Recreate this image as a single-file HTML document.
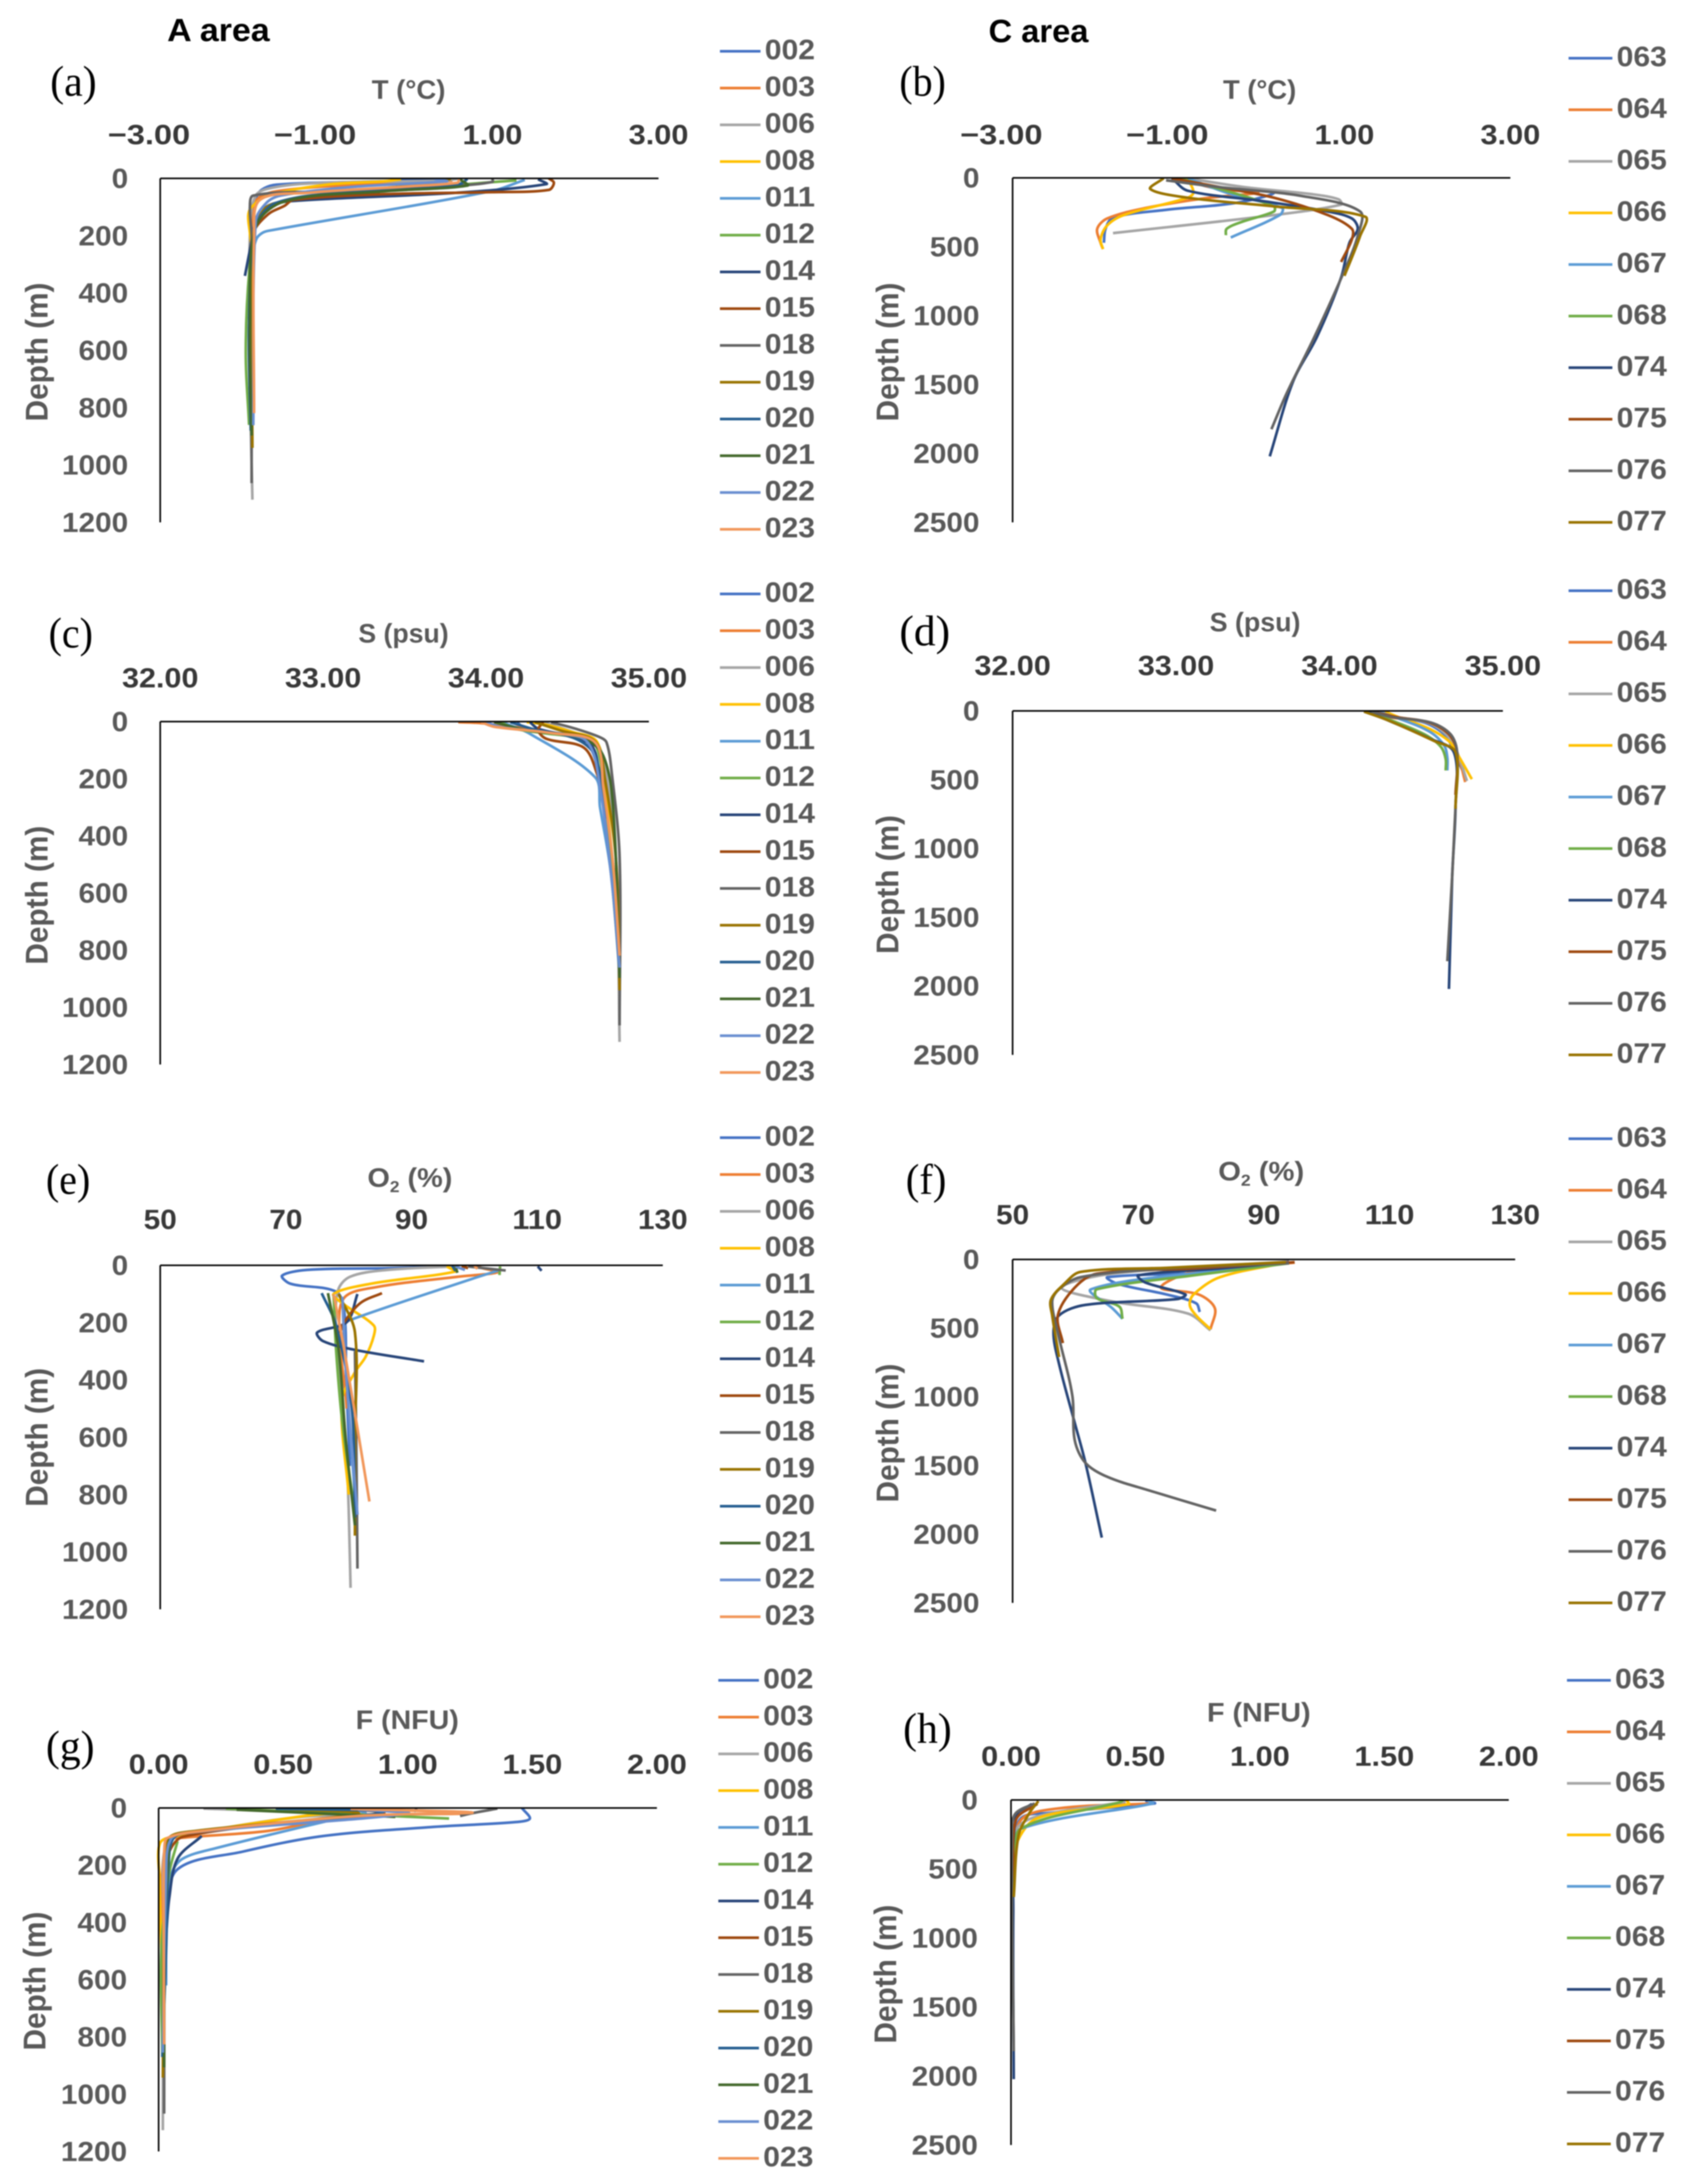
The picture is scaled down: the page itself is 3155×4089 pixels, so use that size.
<!DOCTYPE html>
<html lang="en">
<head>
<meta charset="utf-8">
<title>Depth profiles, A area and C area</title>
<style>
html,body{margin:0;padding:0;background:#fff;width:3155px;height:4089px;overflow:hidden}
svg{display:block;filter:blur(1.1px)}
text{font-family:"Liberation Sans",sans-serif}
.serif{font-family:"Liberation Serif",serif;fill:#000}
.head{font-weight:bold;fill:#000;font-size:60px}
.title{font-weight:bold;fill:#595959;font-size:50px}
</style>
</head>
<body>
<svg id="chart" xmlns="http://www.w3.org/2000/svg" width="3155" height="4089" viewBox="0 0 3155 4089">
<rect width="3155" height="4089" fill="#fff"/>
<text class="head" x="313" y="77" textLength="192" lengthAdjust="spacingAndGlyphs">A area</text>
<text class="head" x="1851" y="79" textLength="187" lengthAdjust="spacingAndGlyphs">C area</text>

<text class="serif" font-size="80" x="94" y="179" textLength="87" lengthAdjust="spacingAndGlyphs">(a)</text>
<text class="serif" font-size="80" x="1684" y="179" textLength="87" lengthAdjust="spacingAndGlyphs">(b)</text>
<text class="serif" font-size="80" x="91" y="1212" textLength="83" lengthAdjust="spacingAndGlyphs">(c)</text>
<text class="serif" font-size="80" x="1684" y="1208" textLength="95" lengthAdjust="spacingAndGlyphs">(d)</text>
<text class="serif" font-size="80" x="86" y="2235" textLength="83" lengthAdjust="spacingAndGlyphs">(e)</text>
<text class="serif" font-size="80" x="1696" y="2235" textLength="76" lengthAdjust="spacingAndGlyphs">(f)</text>
<text class="serif" font-size="80" x="86" y="3296" textLength="91" lengthAdjust="spacingAndGlyphs">(g)</text>
<text class="serif" font-size="80" x="1691" y="3263" textLength="91" lengthAdjust="spacingAndGlyphs">(h)</text>

<text class="title" x="696" y="185" textLength="138" lengthAdjust="spacingAndGlyphs">T (°C)</text>
<text class="title" x="2290" y="185" textLength="137" lengthAdjust="spacingAndGlyphs">T (°C)</text>
<text class="title" x="671" y="1203" textLength="169" lengthAdjust="spacingAndGlyphs">S (psu)</text>
<text class="title" x="2265" y="1182" textLength="170" lengthAdjust="spacingAndGlyphs">S (psu)</text>
<text class="title" x="688" y="2222" textLength="159" lengthAdjust="spacingAndGlyphs">O<tspan font-size="30" dy="10">2</tspan><tspan dy="-10"> (%)</tspan></text>
<text class="title" x="2281" y="2210" textLength="161" lengthAdjust="spacingAndGlyphs">O<tspan font-size="30" dy="10">2</tspan><tspan dy="-10"> (%)</tspan></text>
<text class="title" x="666" y="3237" textLength="193" lengthAdjust="spacingAndGlyphs">F (NFU)</text>
<text class="title" x="2260" y="3223" textLength="194" lengthAdjust="spacingAndGlyphs">F (NFU)</text>
</svg>
<script>
const stationsA = ['002','003','006','008','011','012','014','015','018','019','020','021','022','023'];
const stationsC = ['063','064','065','066','067','068','074','075','076','077'];
const coloursA = ['#4472C4','#ED7D31','#A5A5A5','#FFC000','#5B9BD5','#70AD47','#264478','#9E480E','#636363','#997300','#255E91','#43682B','#698ED0','#F1975A'];
const coloursC = ['#4472C4','#ED7D31','#A5A5A5','#FFC000','#5B9BD5','#70AD47','#264478','#9E480E','#636363','#997300'];

const depthTicksA = [0,200,400,600,800,1000,1200];
const depthTicksC = [0,500,1000,1500,2000,2500];
const tempTicks = [-3,-1,1,3];
const tempLabels = ['\u22123.00','\u22121.00','1.00','3.00'];
const salTicks = [32,33,34,35];
const salLabels = ['32.00','33.00','34.00','35.00'];
const oxyTicks = [50,70,90,110,130];
const oxyLabels = ['50','70','90','110','130'];
const fluoTicks = [0,0.5,1,1.5,2];
const fluoLabels = ['0.00','0.50','1.00','1.50','2.00'];

/* Each series: [depth (m), value] readings; null marks a gap in the profile */
const tempA = [
[[2,-0.1],[6,0.35],[12,-0.6],[22,-1.6],[40,-1.78],[70,-1.85],[100,-1.88],[240,-1.9]],
[[2,0.3],[8,0.5],[20,-0.5],[45,-1.6],[80,-1.85],[200,-1.9],[450,-1.9]],
[[2,0.58],[8,0.4],[15,-1.0],[30,-1.6],[60,-1.85],[200,-1.92],[700,-1.92],[1121,-1.89]],
[[3,-0.1],[10,-0.3],[22,-1.0],[60,-1.7],[100,-1.9],[130,-1.94],[190,-1.92],[260,-1.9],[420,-1.92]],
[[5,1.39],[45,0.98],[183,-1.7],[192,-1.78],[210,-1.84],[260,-1.88],[500,-1.92]],
[[7,1.29],[15,0.9],[50,-0.5],[85,-1.55],[140,-1.82],[300,-1.92],[600,-1.97],[860,-1.93]],
[[3,1.55],[20,1.65],[50,0.58],[77,-1.3],[94,-1.69],[152,-1.85],[250,-1.92],[340,-1.98]],
[[0,1.68],[15,1.74],[40,1.68],[48,1.0],[55,-0.3],[75,-1.4],[95,-1.5],[125,-1.7],[190,-1.88],[300,-1.9]],
[[0,1.0],[12,1.0],[25,0.6],[45,-1.0],[60,-1.88],[100,-1.92],[200,-1.9],[600,-1.9],[1063,-1.9]],
[[2,0.5],[20,0.2],[50,-0.9],[90,-1.65],[150,-1.85],[400,-1.9],[940,-1.89]],
[[2,0.7],[20,0.6],[45,-0.6],[85,-1.6],[170,-1.85],[500,-1.93],[880,-1.91]],
[[2,0.6],[25,0.7],[45,-0.3],[80,-1.5],[170,-1.85],[500,-1.92],[897,-1.9]],
[[2,0.3],[10,0.45],[30,-0.7],[60,-1.55],[85,-1.72],[150,-1.85],[861,-1.88]],
[[2,0.6],[15,0.58],[28,0.0],[50,-1.2],[75,-1.8],[200,-1.87],[819,-1.87]]
];
const tempC = [
[[3,-1.02],[81,-0.5],[106,0.15],[181,-0.3],[232,-1.15],[290,-1.79],[370,-1.88],[471,-1.9]],
[[3,-1.02],[81,-0.5],[106,-0.04],[149,-0.69],[219,-1.40],[295,-1.86],[370,-1.98],[471,-1.94],[517,-1.91]],
[[3,-0.89],[68,-0.2],[118,0.6],[156,0.93],[194,0.96],[270,0.15],[401,-1.79]],
[[3,-0.89],[106,-0.82],[144,-0.89],[270,-1.66],[345,-1.86],[446,-1.94],[517,-1.91]],
[[3,-0.89],[118,-0.37],[219,0.25],[270,0.22],[433,-0.37]],
[[3,-1.0],[81,-0.5],[207,0.15],[244,0.15],[320,-0.24],[370,-0.42],[416,-0.43]],
[[3,-1.08],[93,-0.89],[169,0.02],[244,0.8],[295,1.09],[370,1.16],[471,1.06],[723,0.96],[1152,0.67],[1479,0.38],[2021,0.10]],
[[3,-1.08],[68,-0.5],[144,0.15],[270,0.8],[370,1.09],[446,1.09],[610,0.96]],
[[18,-1.15],[68,-0.5],[131,0.48],[244,1.19],[421,1.16],[673,1.0],[1152,0.64],[1555,0.31],[1824,0.12]],
[[3,-1.18],[81,-1.34],[144,-0.89],[207,0.15],[282,1.25],[421,1.19],[711,1.0]]
];
const salA = [
[[2,34.19],[28,34.25],[45,34.5],[70,34.62],[200,34.7],[500,34.78],[800,34.81]],
[[2,33.83],[6,33.98],[28,34.3],[55,34.55],[80,34.65],[230,34.7],[500,34.78],[780,34.82]],
[[2,34.35],[15,34.42],[40,34.55],[70,34.68],[230,34.75],[500,34.8],[1121,34.82]],
[[2,34.25],[10,34.36],[35,34.52],[70,34.68],[230,34.73],[500,34.78],[600,34.8]],
[[2,34.1],[43,34.27],[195,34.67],[300,34.7],[500,34.76],[800,34.82]],
[[2,34.09],[25,34.18],[40,34.35],[60,34.6],[90,34.68],[230,34.72],[860,34.82]],
[[2,34.27],[25,34.32],[50,34.5],[85,34.65],[200,34.7],[340,34.74]],
[[2,34.35],[30,34.32],[60,34.37],[91,34.6],[180,34.68],[300,34.73]],
[[2,34.4],[25,34.55],[55,34.7],[73,34.74],[170,34.77],[474,34.82],[1063,34.82]],
[[2,34.3],[30,34.45],[70,34.67],[200,34.73],[500,34.8],[940,34.82]],
[[2,34.15],[28,34.3],[60,34.55],[120,34.67],[300,34.72],[600,34.78],[880,34.82]],
[[2,34.05],[30,34.25],[60,34.6],[120,34.72],[300,34.78],[897,34.82]],
[[2,34.0],[20,34.1],[40,34.4],[70,34.62],[230,34.7],[600,34.78],[861,34.82]],
[[2,33.97],[18,34.05],[40,34.4],[73,34.67],[230,34.72],[500,34.78],[819,34.82]]
];
const salC = [
[[5,34.2],[40,34.3],[85,34.52],[180,34.65],[300,34.7],[400,34.74],[480,34.77]],
[[5,34.2],[45,34.3],[85,34.55],[170,34.66],[300,34.72],[517,34.77]],
[[5,34.25],[45,34.35],[90,34.55],[180,34.66],[300,34.72],[509,34.78]],
[[5,34.28],[40,34.35],[130,34.55],[220,34.67],[310,34.72],[496,34.81]],
[[5,34.23],[50,34.35],[150,34.55],[250,34.64],[340,34.66],[433,34.66]],
[[5,34.18],[60,34.3],[170,34.52],[260,34.62],[350,34.65],[433,34.65]],
[[5,34.17],[60,34.28],[200,34.55],[300,34.7],[700,34.71],[1200,34.69],[2021,34.67]],
[[5,34.2],[45,34.35],[85,34.55],[170,34.67],[300,34.72],[610,34.71]],
[[5,34.2],[45,34.32],[85,34.56],[170,34.68],[300,34.72],[700,34.71],[1200,34.69],[1819,34.66]],
[[5,34.15],[70,34.3],[219,34.58],[300,34.71],[711,34.71]]
];
const oxyA = [
[[4,95.6],[10,86.1],[16,73.3],[36,69.4],[64,70.7],[92,78],[161,79.3],[400,79.6],[700,80.2]],
[[1,100.3],[8,101],[24,103.7],[40,97.3],[76,84.4],[113,79.3],[230,78.5],[450,79.5],[500,79.7]],
[[4,96.4],[16,86.1],[40,80.2],[88,78.3],[230,78],[600,79.5],[850,80],[1125,80.3]],
[[4,95.6],[22,96.9],[64,83.6],[100,77.6],[137,79.3],[210,84],[246,84],[319,82.7],[373,81],[476,78.9],[800,80]],
[[16,104.1],[46,99.8],[191,80.2],[210,79.3],[500,80],[800,81]],
[[4,104.1],[34,104],null,[100,77.6],[295,78],[550,79],[864,81]],
[[4,110.1],[19,110.7],null,[100,81.4],[198,79.7],[234,75],[264,75.9],[295,81],[335,92]],
[[2,98],[10,99],null,[97,85.3],[131,81.9],[198,79.3],[236,78.6]],
[[4,99],[18,105],null,[300,81],[600,81.2],[1058,81.4]],
[[100,78.4],[234,81],[600,81],[943,81]],
[[2,96.5],[20,97],null,[97,75.7],[210,78],[500,80.5],[880,81]],
[[3,97],[26,97.3],null,[97,76.7],[295,78.4],[600,79.5],[907,81]],
[[4,97],[16,98.5],null,[110,79],[350,79.5],[870,81.4]],
[[2,100],[12,100.5],null,[100,77.6],[295,79.3],[824,83.3]]
];
const oxyC = [
[[15,94],[90,83],[129,65.1],[179,66.8],[255,74.5],[319,79.2],[382,79.8]],
[[23,94.9],[90,78.8],[205,73.6],[255,79.6],[356,82.2],[508,81.5]],
[[15,94],[104,65.9],[205,57.8],[306,65.9],[394,77.9],[516,81.5]],
[[20,94],[129,83],[255,78.8],[331,78.2],[407,79.2],[508,81.5]],
[[20,94],[78,83],[217,62.5],[356,65.9],[432,67.5]],
[[28,94],[116,78.8],[217,63.4],[281,63.4],[344,67],[432,67.5]],
[[20,94],[66,83],[116,70],[167,71.1],[255,77.5],[288,76.2],[331,61.6],[407,57.4],[533,56.5],[761,57.4],[1191,59.9],[1481,61.6],[2025,64.2]],
[[20,94.9],[66,78.8],[104,63.4],[205,59.9],[407,57.2],[609,58]],
[[28,94],[66,74.5],[129,60.8],[217,57.4],[306,56.3],[533,57.2],[988,59.5],[1317,59.9],[1481,61.6],[1583,65.1],[1684,71.9],[1828,82.4]],
[[20,93.5],[61,74.5],[91,60.8],[179,58.2],[293,56.1],[407,56.3],[710,57.4]]
];
const fluoA = [
[[0,1.458],[37,1.49],[49,1.436],[67,1.09],[98,0.66],[153,0.335],[214,0.076],[373,0.032],[680,0.02]],
[[2,0.72],[18,1.26],[31,0.745],[80,0.44],[104,0.097],[116,0.032],[373,0.011],[600,0.02]],
[[2,0.18],[24,0.87],[31,0.57],[92,0.12],[116,0.032],[373,0.02],[1126,0.017]],
[[2,0.58],[12,0.76],[27,0.59],[98,0.076],[122,0.006],[251,0.004],[500,0.011]],
[[2,0.76],[18,0.83],[37,0.72],[141,0.227],[177,0.097],[226,0.054],[373,0.032],[620,0.03]],
[[2,0.27],[37,1.166],null,[116,0.076],[226,0.043],[496,0.011],[870,0.015]],
[[2,1.037],[12,1.025],null,[98,0.173],[177,0.076],[312,0.043],[450,0.03]],
[[2,0.72],[18,0.9],[100,0.1],[180,0.03],[300,0.02]],
[[2,1.36],[18,1.26],[28,1.21],null,[104,0.032],[400,0.024],[1068,0.022]],
[[3,0.5],[20,0.8],[80,0.15],[105,0.04],[200,0.025],[942,0.017]],
[[2,0.47],[15,0.9],[85,0.14],[105,0.06],[200,0.04],[500,0.03],[870,0.015]],
[[6,0.313],[31,0.95],null,[104,0.043],[400,0.025],[906,0.022]],
[[5,0.8],[20,1.0],[85,0.14],[108,0.05],[250,0.03],[855,0.017]],
[[3,0.77],[16,1.26],[28,0.8],[85,0.13],[105,0.035],[130,0.024],[300,0.02],[826,0.022]]
];
const fluoC = [
[[5,0.54],[25,0.577],[94,0.15],[132,0.04],[322,0.015],[576,0.011]],
[[25,0.57],[61,0.19],[145,0.04],[450,0.015]],
[[13,0.46],[119,0.106],[220,0.02],[576,0.011]],
[[1,0.463],[30,0.473],[132,0.106],[322,0.02],[520,0.011]],
[[5,0.55],[25,0.57],[208,0.04],[373,0.015],[576,0.011]],
[[1,0.45],[15,0.44],[208,0.04],[450,0.011]],
[[28,0.084],[119,0.02],[830,0.009],[2023,0.011]],
[[28,0.106],[145,0.02],[576,0.011]],
[[25,0.095],[94,0.02],[195,0.004],[1820,0.011]],
[[8,0.11],[94,0.074],[259,0.03],[703,0.011]]
];

const panels = [
 {id:'a',series:tempA,names:stationsA,colours:coloursA,xT:tempTicks,xL:tempLabels,yT:depthTicksA,xMin:-3,xMax:3,yMax:1200,l:300,r:1233,t:334,b:978,xBase:270,yRight:240,depX:89,depY:659,legX:1348,legW:76,legT:96,legB:991},
 {id:'b',series:tempC,names:stationsC,colours:coloursC,xT:tempTicks,xL:tempLabels,yT:depthTicksC,xMin:-3,xMax:3,yMax:2500,l:1896,r:2828,t:333,b:978,xBase:270,yRight:1834,depX:1682,depY:659,legX:2937,legW:82,legT:109,legB:978},
 {id:'c',series:salA,names:stationsA,colours:coloursA,xT:salTicks,xL:salLabels,yT:depthTicksA,xMin:32,xMax:35,yMax:1200,l:300,r:1215,t:1351,b:1993,xBase:1287,yRight:240,depX:89,depY:1676,legX:1348,legW:76,legT:1112,legB:2008},
 {id:'d',series:salC,names:stationsC,colours:coloursC,xT:salTicks,xL:salLabels,yT:depthTicksC,xMin:32,xMax:35,yMax:2500,l:1896,r:2814,t:1331,b:1975,xBase:1264,yRight:1834,depX:1682,depY:1656,legX:2937,legW:82,legT:1106,legB:1975},
 {id:'e',series:oxyA,names:stationsA,colours:coloursA,xT:oxyTicks,xL:oxyLabels,yT:depthTicksA,xMin:50,xMax:130,yMax:1200,l:300,r:1241,t:2369,b:3013,xBase:2301,yRight:240,depX:89,depY:2691,legX:1348,legW:76,legT:2130,legB:3027},
 {id:'f',series:oxyC,names:stationsC,colours:coloursC,xT:oxyTicks,xL:oxyLabels,yT:depthTicksC,xMin:50,xMax:130,yMax:2500,l:1896,r:2837,t:2358,b:3001,xBase:2292,yRight:1834,depX:1682,depY:2683,legX:2937,legW:82,legT:2132,legB:3001},
 {id:'g',series:fluoA,names:stationsA,colours:coloursA,xT:fluoTicks,xL:fluoLabels,yT:depthTicksA,xMin:0,xMax:2,yMax:1200,l:297,r:1230,t:3385,b:4028,xBase:3321,yRight:238,depX:85,depY:3709,legX:1345,legW:76,legT:3146,legB:4041},
 {id:'h',series:fluoC,names:stationsC,colours:coloursC,xT:fluoTicks,xL:fluoLabels,yT:depthTicksC,xMin:0,xMax:2,yMax:2500,l:1893,r:2825,t:3370,b:4016,xBase:3306,yRight:1831,depX:1678,depY:3696,legX:2934,legW:82,legT:3146,legB:4014}
];

const SVGNS = 'http://www.w3.org/2000/svg';
const root = document.getElementById('chart');

function mk(tag, parent) {
  const n = document.createElementNS(SVGNS, tag);
  parent.appendChild(n);
  return n;
}
function labelWidth(s) {
  let w = 0;
  for (const c of s) {
    w += c === '.' ? 19 : c === '\u2212' ? 42 : 31;
  }
  return w;
}
function dist(a, b) {
  return Math.hypot(a[0] - b[0], a[1] - b[1]) || 1;
}
function smoothPath(pts) {
  let d = 'M' + pts[0][0].toFixed(1) + ' ' + pts[0][1].toFixed(1);
  for (let i = 0; i < pts.length - 1; i++) {
    const p0 = pts[Math.max(i - 1, 0)], p1 = pts[i], p2 = pts[i + 1], p3 = pts[Math.min(i + 2, pts.length - 1)];
    const seg = dist(p1, p2);
    const k1 = seg / 3 / (i === 0 ? seg : dist(p0, p1) + seg);
    const k2 = seg / 3 / (i + 2 > pts.length - 1 ? seg : seg + dist(p2, p3));
    const c1x = p1[0] + (p2[0] - p0[0]) * k1, c1y = p1[1] + (p2[1] - p0[1]) * k1;
    const c2x = p2[0] - (p3[0] - p1[0]) * k2, c2y = p2[1] - (p3[1] - p1[1]) * k2;
    d += 'C' + c1x.toFixed(1) + ' ' + c1y.toFixed(1) + ' ' + c2x.toFixed(1) + ' ' + c2y.toFixed(1) + ' ' + p2[0].toFixed(1) + ' ' + p2[1].toFixed(1);
  }
  return d;
}

panels.forEach(function (p) {
  const xScale = function (v) { return p.l + (v - p.xMin) / (p.xMax - p.xMin) * (p.r - p.l); };
  const yScale = function (d) { return p.t + d / p.yMax * (p.b - p.t); };

  const g = mk('g', root);
  
  

  // series
  p.series.forEach(function (s, i) {
    let d = '';
    let run = [];
    const flush = function () {
      if (run.length > 1) d += smoothPath(run);
      run = [];
    };
    s.forEach(function (pt) {
      if (pt === null) { flush(); return; }
      run.push([xScale(pt[1]), yScale(pt[0])]);
    });
    flush();
    const path = mk('path', g);
    
    
    path.setAttribute('d', d);
    path.setAttribute('fill', 'none');
    path.setAttribute('stroke', p.colours[i]);
    path.setAttribute('stroke-width', '5');
    path.setAttribute('stroke-linejoin', 'round');
  });

  // axes
  const xAxis = mk('line', g);
  
  
  xAxis.setAttribute('x1', p.l);
  xAxis.setAttribute('x2', p.r);
  xAxis.setAttribute('y1', p.t);
  xAxis.setAttribute('y2', p.t);
  xAxis.setAttribute('stroke', '#000');
  xAxis.setAttribute('stroke-width', '3');
  const yAxis = mk('line', g);
  
  
  yAxis.setAttribute('x1', p.l);
  yAxis.setAttribute('x2', p.l);
  yAxis.setAttribute('y1', p.t);
  yAxis.setAttribute('y2', p.b);
  yAxis.setAttribute('stroke', '#000');
  yAxis.setAttribute('stroke-width', '3');

  // x tick labels
  p.xT.forEach(function (v, i) {
    const label = p.xL[i];
    const t = mk('text', g);
    
    
    const w = labelWidth(label);
    const plain = label.replace('\u2212', '');
    const endX = xScale(v) + labelWidth(plain) / 2;
    t.setAttribute('x', (endX - w).toFixed(1));
    t.setAttribute('y', p.xBase);
    t.setAttribute('font-size', '52');
    t.setAttribute('font-weight', 'bold');
    t.setAttribute('fill', '#383838');
    t.setAttribute('textLength', w);
    t.setAttribute('lengthAdjust', 'spacingAndGlyphs');
    t.textContent = label;
  });

  // y tick labels
  p.yT.forEach(function (v) {
    const t = mk('text', g);
    
    
    const s = String(v);
    const w = labelWidth(s);
    t.setAttribute('x', p.yRight - w);
    t.setAttribute('y', (yScale(v) + 18).toFixed(1));
    t.setAttribute('font-size', '52');
    t.setAttribute('font-weight', 'bold');
    t.setAttribute('fill', '#595959');
    t.setAttribute('textLength', w);
    t.setAttribute('lengthAdjust', 'spacingAndGlyphs');
    t.textContent = s;
  });

  // depth axis title
  const dt = mk('text', g);
  
  
  dt.setAttribute('transform', 'translate(' + p.depX + ' ' + (p.depY + 130) + ') rotate(-90)');
  dt.setAttribute('font-size', '58');
  dt.setAttribute('font-weight', 'bold');
  dt.setAttribute('fill', '#595959');
  dt.setAttribute('textLength', '260');
  dt.setAttribute('lengthAdjust', 'spacingAndGlyphs');
  dt.textContent = 'Depth (m)';

  // legend
  const step = (p.legB - p.legT) / (p.names.length - 1);
  p.names.forEach(function (name, i) {
    const ly = p.legT + step * i;
    const entry = mk('g', g);
    
    
    const sw = mk('line', entry);
    
    
    sw.setAttribute('x1', p.legX);
    sw.setAttribute('x2', p.legX + p.legW);
    sw.setAttribute('y1', ly);
    sw.setAttribute('y2', ly);
    sw.setAttribute('stroke', p.colours[i]);
    sw.setAttribute('stroke-width', '5');
    const t = mk('text', entry);
    
    
    t.setAttribute('x', p.legX + p.legW + 8);
    t.setAttribute('y', ly + 15);
    t.setAttribute('font-size', '53');
    t.setAttribute('font-weight', 'bold');
    t.setAttribute('fill', '#595959');
    t.setAttribute('textLength', '94');
    t.setAttribute('lengthAdjust', 'spacingAndGlyphs');
    t.textContent = name;
  });
});
</script>
</body>
</html>
